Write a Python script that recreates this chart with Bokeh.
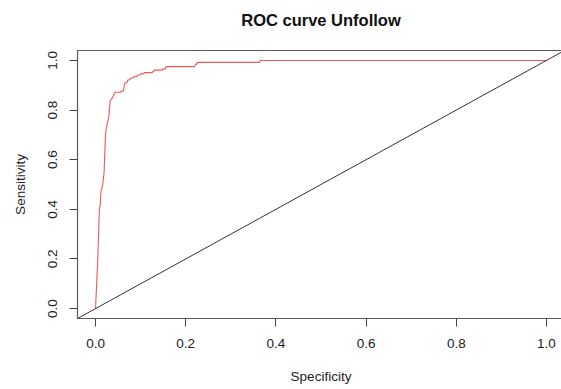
from bokeh.plotting import figure
from bokeh.models import Range1d, Slope, FixedTicker, Title
from bokeh.embed import file_html
from bokeh.resources import INLINE

# ROC curve vertices (x axis labelled "Specificity", y "Sensitivity")
specificity = [0.0, 0.005, 0.0085, 0.0105, 0.012, 0.0135, 0.016, 0.019, 0.021, 0.022,
               0.024, 0.026, 0.028, 0.030, 0.032, 0.033, 0.037, 0.039, 0.042, 0.044,
               0.056, 0.057, 0.062, 0.063, 0.065, 0.070, 0.071, 0.076, 0.077, 0.084,
               0.085, 0.092, 0.093, 0.099, 0.100, 0.107, 0.108, 0.126, 0.127, 0.129,
               0.130, 0.148, 0.149, 0.155, 0.156, 0.220, 0.222, 0.225, 0.226, 0.363,
               0.364, 0.366, 1.0]
sensitivity = [0.0, 0.20, 0.40, 0.42, 0.47, 0.48, 0.50, 0.55, 0.65, 0.70,
               0.725, 0.745, 0.76, 0.78, 0.83, 0.84, 0.848, 0.855, 0.868, 0.872,
               0.872, 0.877, 0.877, 0.89, 0.908, 0.912, 0.921, 0.921, 0.929, 0.929,
               0.935, 0.935, 0.941, 0.941, 0.946, 0.946, 0.951, 0.951, 0.955, 0.955,
               0.961, 0.961, 0.966, 0.966, 0.975, 0.975, 0.985, 0.985, 0.992, 0.992,
               0.996, 1.0, 1.0]
tick_values = [0.0, 0.2, 0.4, 0.6, 0.8, 1.0]
title_text = "ROC curve Unfollow"

FONT = "Liberation Sans"

p = figure(frame_width=487, frame_height=268, output_backend="svg", toolbar_location=None,
           x_range=Range1d(-0.04, 1.04), y_range=Range1d(-0.04, 1.04),
           min_border_left=77, min_border_right=0, min_border_top=0,
           min_border_bottom=69, title_location=None)
p.background_fill_color = "white"
p.border_fill_color = "white"
p.grid.visible = False
p.outline_line_color = "#5a5a5a"
p.outline_line_width = 1.2

# blank spacer title next to the frame, then the main title above it
p.add_layout(Title(text=" ", align="center", text_font=FONT,
                   text_font_size="8px", standoff=3), "above")
p.add_layout(Title(text=title_text, align="center", text_font=FONT,
                   text_font_size="16.5px", text_font_style="bold",
                   text_color="#111111", standoff=16), "above")

for ax in (p.xaxis[0], p.yaxis[0]):
    ax.ticker = FixedTicker(ticks=tick_values)
    ax.axis_line_color = None
    ax.major_tick_out = 8
    ax.major_tick_in = 0
    ax.major_tick_line_color = "#444444"
    ax.minor_tick_line_color = None
    ax.major_label_text_font = FONT
    ax.major_label_text_font_size = "13.5px"
    ax.major_label_text_color = "#222222"
    ax.axis_label_text_font = FONT
    ax.axis_label_text_font_size = "13.5px"
    ax.axis_label_text_font_style = "normal"
    ax.axis_label_text_color = "#222222"

p.xaxis.axis_label = "Specificity"
p.yaxis.axis_label = "Sensitivity"
p.xaxis.major_label_overrides = {v: f"{v:.1f}" for v in tick_values}
p.yaxis.major_label_overrides = {v: f"{v:.1f}" for v in tick_values}
p.yaxis.major_label_orientation = "vertical"
p.xaxis.major_label_standoff = 12
p.xaxis.axis_label_standoff = 18
p.yaxis.major_label_standoff = 12
p.yaxis.axis_label_standoff = 18

p.add_layout(Slope(gradient=1, y_intercept=0, line_color="#333333", line_width=1))
p.line(specificity, sensitivity, line_color="#ee5858", line_width=1.1)

open("out.html", "w").write(file_html(p, INLINE))
